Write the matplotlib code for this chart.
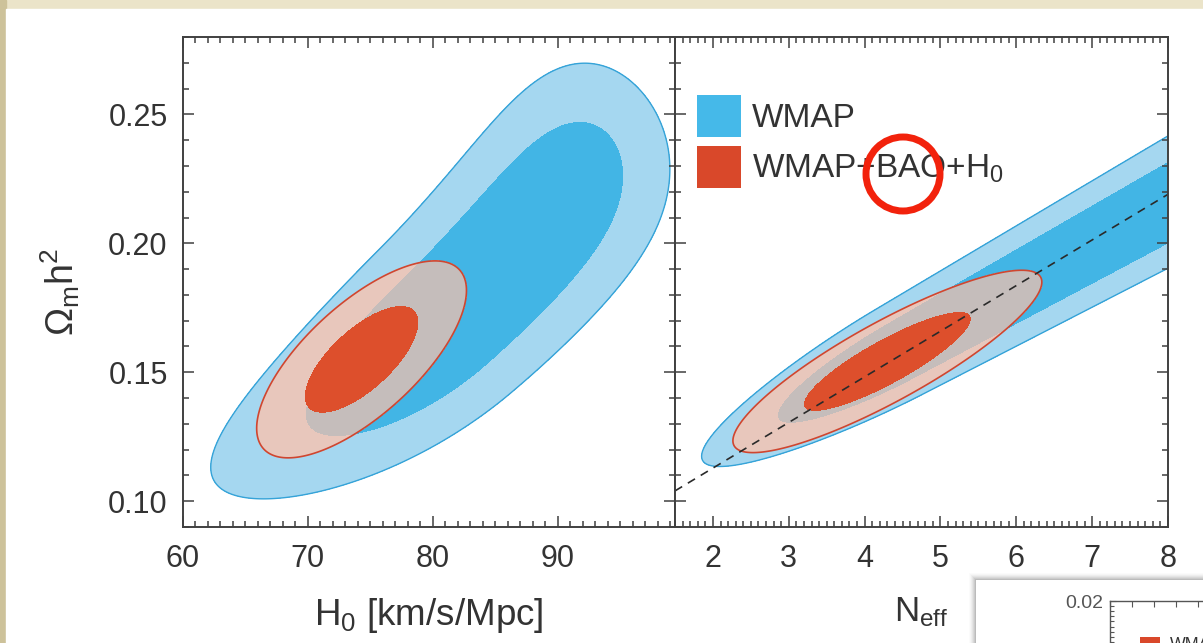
import numpy as np
import matplotlib
matplotlib.use("Agg")
import matplotlib.pyplot as plt
from matplotlib.patches import Patch, Rectangle, Ellipse
from matplotlib.ticker import MultipleLocator, FormatStrFormatter

W, H, DPI = 1203, 643, 100

plt.rcParams['font.family'] = ['Liberation Sans', 'DejaVu Sans']
plt.rcParams['mathtext.fontset'] = 'custom'
plt.rcParams['mathtext.rm'] = 'Liberation Sans'
plt.rcParams['mathtext.it'] = 'Liberation Sans:italic'
plt.rcParams['mathtext.bf'] = 'Liberation Sans:bold'
plt.rcParams['mathtext.default'] = 'regular'

# ---------------- data ----------------
h0_lim = [60.0, 99.4]
neff_lim = [1.5, 8.0]
omh2_lim = [0.09, 0.28]
h0_ticks = [60, 70, 80, 90]
neff_ticks = [2, 3, 4, 5, 6, 7, 8]
omh2_ticks = [0.10, 0.15, 0.20, 0.25]

# delta-chi2 of the 68% / 95% regions
wmap_levels = [2.30, 6.17]
combo_levels = [2.30, 8.0]

# WMAP alone: curved degeneracy ridge (end points, bow, width, along-ridge profile)
wmap_h0_ridge_x = [62.8, 95.9]
wmap_h0_ridge_y = [0.1062, 0.2551]
wmap_h0_bow = -0.07
wmap_h0_width = [0.070, 0.020]
wmap_h0_profile = [0.491, 0.198, 0.371, 2.0, 5.0]   # peak, low/high scale, low/high power

wmap_neff_ridge_x = [1.86, 9.95]
wmap_neff_ridge_y = [0.1157, 0.2473]
wmap_neff_bow = 0.0
wmap_neff_width = [0.034, 0.018]
wmap_neff_profile = [0.321, 0.129, 2.0, 2.0, 2.0]

# WMAP+BAO+H0: Gaussian posteriors
combo_h0_mean = [74.3, 0.155]
combo_h0_sigma = [2.97, 0.0135]
combo_h0_rho = 0.70
combo_neff_mean = [4.30, 0.1542]
combo_neff_sigma = [0.72, 0.0125]
combo_neff_rho = 0.87

# line of constant matter-radiation equality
zeq_neff = [1.5, 8.0]
zeq_omh2 = [0.104, 0.219]

# ---------------- colours ----------------
C_BLUE95 = '#a5d7f0'
C_BLUE68 = '#42b5e5'
C_BLUE_EDGE = '#35a3d8'
C_RED95 = '#e8c7bc'
C_OVERLAP = '#c5bdbb'
C_RED_EDGE = '#cf4630'
C_RED68 = '#dd4f2c'
C_LEG_BLUE = '#45b9e9'
C_LEG_RED = '#d9482a'
C_AXIS = '#404040'
C_TEXT = '#333333'


def ridge_chi2(x, y, xlim, ylim, rx, ry, bow, width, profile):
    """Chi-square of a banana-shaped posterior built around a bowed ridge."""
    u = (x - xlim[0]) / (xlim[1] - xlim[0])
    v = (y - ylim[0]) / (ylim[1] - ylim[0])
    su = (rx[0] - xlim[0]) / (xlim[1] - xlim[0])
    sv = (ry[0] - ylim[0]) / (ylim[1] - ylim[0])
    eu = (rx[1] - xlim[0]) / (xlim[1] - xlim[0])
    ev = (ry[1] - ylim[0]) / (ylim[1] - ylim[0])
    du, dv = eu - su, ev - sv
    length = np.hypot(du, dv)
    tu, tv = du / length, dv / length
    pu, pv = u - su, v - sv
    s = (pu * tu + pv * tv) / length
    b = -pu * tv + pv * tu
    b0 = bow * 4 * s * (1 - s)
    w = np.maximum(width[0] + width[1] * s, 1e-3)
    peak, slo, shi, plo, phi = profile
    g = np.where(s < peak, (np.abs(s - peak) / slo) ** plo,
                 (np.abs(s - peak) / shi) ** phi)
    return ((b - b0) / w) ** 2 + g


def gauss_chi2(x, y, mean, sigma, rho):
    dx = (x - mean[0]) / sigma[0]
    dy = (y - mean[1]) / sigma[1]
    return (dx * dx - 2 * rho * dx * dy + dy * dy) / (1 - rho ** 2)


def draw_regions(ax, X, Y, wmap, combo):
    ax.contourf(X, Y, wmap, levels=[-1, wmap_levels[1]], colors=[C_BLUE95], zorder=1)
    ax.contour(X, Y, wmap, levels=[wmap_levels[1]], colors=[C_BLUE_EDGE],
               linewidths=1.0, zorder=1.1)
    ax.contourf(X, Y, wmap, levels=[-1, wmap_levels[0]], colors=[C_BLUE68], zorder=1.2)
    red95 = ax.contourf(X, Y, combo, levels=[-1, combo_levels[1]], colors=[C_RED95], zorder=2)
    overlap = ax.contourf(X, Y, wmap, levels=[-1, wmap_levels[0]], colors=[C_OVERLAP], zorder=2.1)
    overlap.set_clip_path(red95.get_paths()[0], ax.transData)
    ax.contour(X, Y, combo, levels=[combo_levels[1]], colors=[C_RED_EDGE],
               linewidths=1.2, zorder=2.2)
    ax.contourf(X, Y, combo, levels=[-1, combo_levels[0]], colors=[C_RED68], zorder=2.3)


def style_axes(ax, xlim, xticks, xminor):
    ax.set_xlim(xlim)
    ax.set_ylim(omh2_lim)
    ax.set_xticks(xticks)
    ax.xaxis.set_minor_locator(MultipleLocator(xminor))
    ax.set_yticks(omh2_ticks)
    ax.yaxis.set_minor_locator(MultipleLocator(0.01))
    ax.yaxis.set_major_formatter(FormatStrFormatter('%.2f'))
    ax.tick_params(which='both', direction='in', top=True, right=True,
                   color=C_AXIS, width=1.1, labelcolor=C_TEXT)
    ax.tick_params(which='major', length=8)
    ax.tick_params(which='minor', length=4.5)
    ax.tick_params(axis='x', labelsize=22, pad=12)
    ax.tick_params(axis='y', labelsize=22, pad=11)
    for sp in ax.spines.values():
        sp.set_color(C_AXIS)
        sp.set_linewidth(1.4)
        sp.set_zorder(5)


def fx(px):
    return px / W


def fy(py):
    return 1 - py / H


fig = plt.figure(figsize=(W / DPI, H / DPI), dpi=DPI)
fig.patch.set_facecolor('#ebe4c9')
fig.add_artist(Rectangle((0, 0), fx(6), 1, transform=fig.transFigure,
                         color='#cdc29a', zorder=-10))
fig.add_artist(Rectangle((fx(6), 0), 1, fy(9), transform=fig.transFigure,
                         color='white', zorder=-9))

ax1 = fig.add_axes([fx(183), fy(527), (675 - 183) / W, 490 / H])
ax2 = fig.add_axes([fx(675), fy(527), (1168 - 675) / W, 490 / H])

# left panel: H0 vs Omega_m h^2
hx = np.linspace(h0_lim[0], h0_lim[1], 700)
oy = np.linspace(omh2_lim[0], omh2_lim[1], 700)
HX, OY = np.meshgrid(hx, oy)
wmap_h = ridge_chi2(HX, OY, h0_lim, omh2_lim, wmap_h0_ridge_x, wmap_h0_ridge_y,
                    wmap_h0_bow, wmap_h0_width, wmap_h0_profile)
combo_h = gauss_chi2(HX, OY, combo_h0_mean, combo_h0_sigma, combo_h0_rho)
draw_regions(ax1, HX, OY, wmap_h, combo_h)
style_axes(ax1, h0_lim, h0_ticks, 1)
ax1.set_xlabel(r'H$_0$ [km/s/Mpc]', fontsize=26.5, color=C_TEXT)
ax1.xaxis.set_label_coords(0.5, -0.14)
ax1.set_ylabel(r'$\Omega_{\rm m}h^2$', fontsize=27, color=C_TEXT)
ax1.yaxis.set_label_coords(-0.205, 0.48)

# right panel: N_eff vs Omega_m h^2
nx = np.linspace(neff_lim[0], neff_lim[1], 700)
NX, OY2 = np.meshgrid(nx, oy)
wmap_n = ridge_chi2(NX, OY2, neff_lim, omh2_lim, wmap_neff_ridge_x, wmap_neff_ridge_y,
                    wmap_neff_bow, wmap_neff_width, wmap_neff_profile)
combo_n = gauss_chi2(NX, OY2, combo_neff_mean, combo_neff_sigma, combo_neff_rho)
draw_regions(ax2, NX, OY2, wmap_n, combo_n)
ax2.plot(zeq_neff, zeq_omh2, color='#2a2a2a', lw=1.2, ls=(0, (5, 4)), zorder=3)
style_axes(ax2, neff_lim, neff_ticks, 0.1)
ax2.tick_params(labelleft=False)
ax2.set_xlabel(r'N$_{\rm eff}$', fontsize=25, color=C_TEXT)
ax2.xaxis.set_label_coords(0.5, -0.14)

handles = [Patch(facecolor=C_LEG_BLUE, edgecolor='none', label='WMAP'),
           Patch(facecolor=C_LEG_RED, edgecolor='none', label=r'WMAP+BAO+H$_0$')]
leg = ax2.legend(handles=handles, loc='upper left', bbox_to_anchor=(0.0446, 0.8816),
                 frameon=False, fontsize=24, handlelength=1.32, handleheight=1.55,
                 handletextpad=0.33, labelspacing=0.27, borderpad=0, borderaxespad=0)
for t in leg.get_texts():
    t.set_color(C_TEXT)

# highlight ring around "BAO"
fig.add_artist(Ellipse((fx(903), fy(174)), 74 / W, 74 / H, transform=fig.transFigure,
                       fill=False, ec='#f2220c', lw=5, zorder=20))

# neighbouring figure card in the lower right corner
for k, a in zip(range(7, 0, -1), [0.015, 0.02, 0.03, 0.04, 0.05, 0.06, 0.08]):
    fig.add_artist(Rectangle((fx(976 - k), 0), 1, fy(580 - k), transform=fig.transFigure,
                             color='black', alpha=a, lw=0, zorder=6))
fig.add_artist(Rectangle((fx(976), 0), 1, fy(580), transform=fig.transFigure,
                         color='white', lw=0, zorder=7))
ax3 = fig.add_axes([fx(1110), fy(703), 0.2, (703 - 601) / H], zorder=8)
ax3.set_facecolor('none')
ax3.set_xlim(0, 0.2 * W / 22)
ax3.set_ylim(0.0, 0.02)
ax3.xaxis.set_major_locator(MultipleLocator(1))
ax3.set_yticks([0.02])
ax3.yaxis.set_minor_locator(MultipleLocator(0.001))
ax3.yaxis.set_major_formatter(FormatStrFormatter('%.2f'))
ax3.tick_params(which='both', direction='in', top=True, bottom=False, right=False,
                labelbottom=False, color='#555555', width=0.8, labelsize=14,
                labelcolor='#555555', pad=5)
ax3.tick_params(which='major', length=4)
ax3.tick_params(which='minor', length=3)
for side in ['right', 'bottom']:
    ax3.spines[side].set_visible(False)
for side in ['left', 'top']:
    ax3.spines[side].set_color('#555555')
    ax3.spines[side].set_linewidth(1.0)
fig.add_artist(Rectangle((fx(1140), fy(660)), 20 / W, 23 / H, transform=fig.transFigure,
                         color=C_LEG_RED, lw=0, zorder=9))
fig.text(fx(1170), fy(637), 'WMAP+BAO', fontsize=12, va='top', ha='left',
         color=C_TEXT, zorder=9)

fig.savefig('out.png', dpi=DPI)
